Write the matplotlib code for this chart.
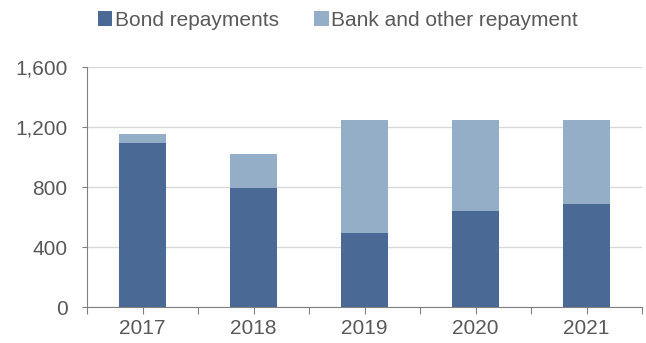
import matplotlib
matplotlib.use("Agg")
import matplotlib.pyplot as plt
import numpy as np
from matplotlib.ticker import FuncFormatter, MultipleLocator

# repayment schedule (millions)
years = ["2017", "2018", "2019", "2020", "2021"]
bond = [1093, 793, 493, 644, 691]
bank = [62, 229, 757, 606, 559]

dark = "#4a6a95"
light = "#94aec8"
txt = "#595959"

plt.rcParams['font.family'] = ['Liberation Sans', 'DejaVu Sans']
plt.rcParams['font.size'] = 15

fig = plt.figure(figsize=(6.46, 3.43), dpi=100)
ax = fig.add_axes([0.1351, 0.1041, 0.8587, 0.6997])

x = np.arange(len(years))
w = 0.42
ax.bar(x, bond, w, color=dark, label="Bond repayments", zorder=3)
ax.bar(x, bank, w, bottom=bond, color=light, label="Bank and other repayment", zorder=3)

ax.set_xlim(-0.5, len(years) - 0.5)
ax.set_ylim(0, 1600)
ax.yaxis.set_major_locator(MultipleLocator(400))
ax.yaxis.set_major_formatter(FuncFormatter(lambda v, p: "{:,.0f}".format(v)))
ax.grid(axis="y", color="#d9d9d9", linewidth=1.0, zorder=0)

ax.set_xticks(x)
ax.set_xticklabels(years)
ax.set_xticks(np.arange(-0.5, len(years)), minor=True)
ax.tick_params(axis="x", which="both", direction="out", length=4.8, width=0.8,
               color="#808080", labelcolor=txt, pad=3.5)
ax.tick_params(axis="y", direction="out", length=3.6, width=0.8,
               color="#808080", labelcolor=txt, pad=10.5)

for s in ["top", "right"]:
    ax.spines[s].set_visible(False)
ax.spines["left"].set_color("#808080")
ax.spines["bottom"].set_color("#808080")
ax.spines["left"].set_linewidth(0.8)
ax.spines["bottom"].set_linewidth(0.8)

fig.legend(loc="center", bbox_to_anchor=(0.523, 0.94), ncol=2, frameon=False,
           handlelength=0.7, handleheight=0.7, handletextpad=0.12,
           columnspacing=1.7, labelcolor=txt, borderaxespad=0)

fig.savefig("out.png", dpi=100)
